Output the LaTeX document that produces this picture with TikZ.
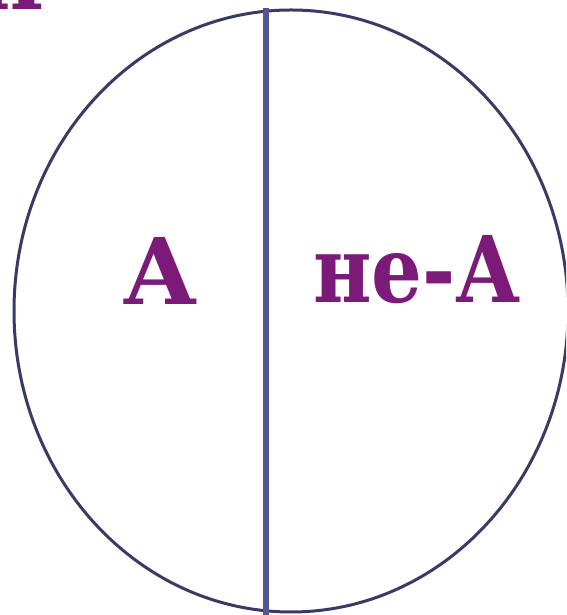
\documentclass[tikz,border=0pt]{standalone}
\usepackage{fontspec}
\usetikzlibrary{shapes.geometric}
\setmainfont{DejaVu Serif}
\definecolor{txtpurple}{HTML}{7B1A78}
\definecolor{ellcol}{HTML}{3A3A66}
\definecolor{linecol}{HTML}{555590}
\tikzset{
  lbl/.style={text=txtpurple, font=\fontsize{92}{92}\selectfont\bfseries, anchor=base, inner sep=0pt},
  ell/.style={draw=ellcol, line width=3pt},
  divider/.style={draw=linecol, line width=6.5pt}
}
\begin{document}
\begin{tikzpicture}[x=1pt,y=1pt]
\useasboundingbox (0,0) rectangle (566,615);
\begin{scope}
\clip (0,0) rectangle (566,615);
\node[ell, ellipse, minimum width=554pt, minimum height=602pt, inner sep=0pt] (e) at (291,304) {};
\coordinate (top) at (266,607);
\coordinate (bot) at (266,-2);
\draw[divider] (top) -- (bot);
\node[lbl] (a) at (160,310) {A};
\node[lbl] (na) at (417,312) {\scalebox{0.87}[1]{не-А}};
\node[lbl, anchor=base east] (h) at (45,605) {и};
\end{scope}
\end{tikzpicture}
\end{document}
